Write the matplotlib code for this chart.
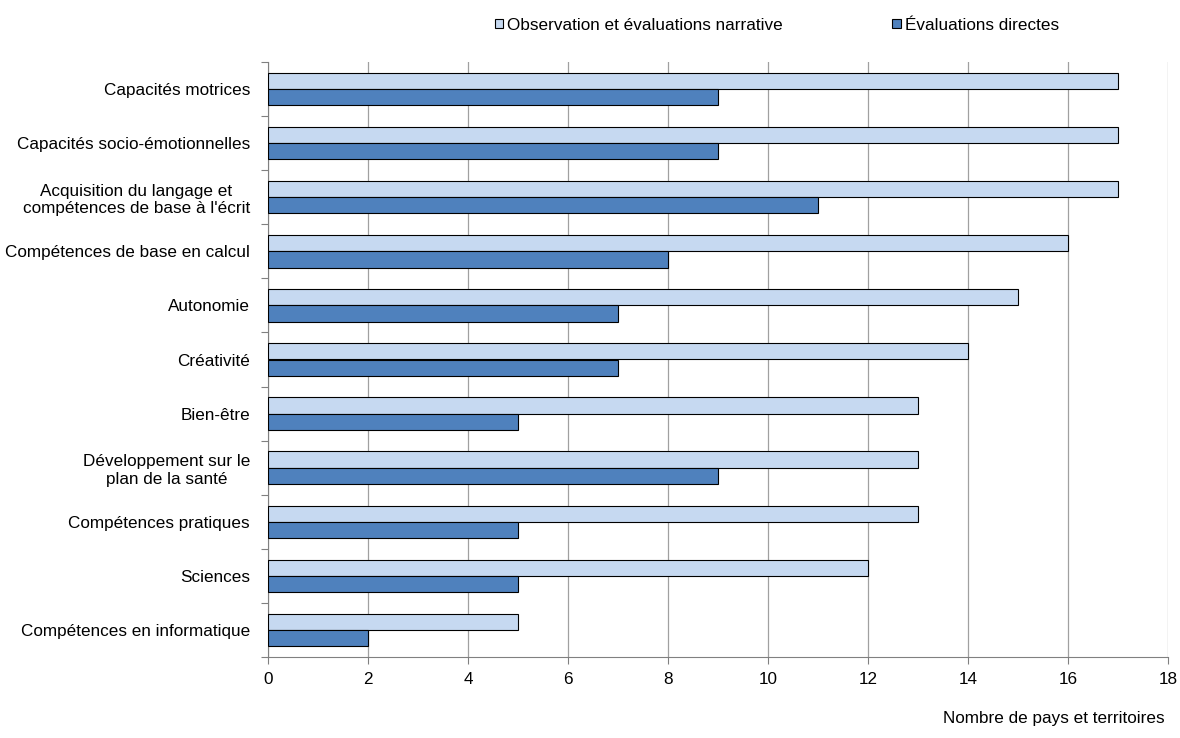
import numpy as np
from matplotlib import pyplot as plt
from matplotlib import rcParams

rcParams['font.family'] = ['Liberation Sans', 'DejaVu Sans']
rcParams['font.size'] = 12.3

categories = ['Capacités motrices', 'Capacités socio-émotionnelles',
              'Acquisition du langage et\ncompétences de base à l\'écrit',
              'Compétences de base en calcul', 'Autonomie', 'Créativité', 'Bien-être',
              'Développement sur le\nplan de la santé', 'Compétences pratiques', 'Sciences',
              'Compétences en informatique']
observation = [17, 17, 17, 16, 15, 14, 13, 13, 13, 12, 5]
directes = [9, 9, 11, 8, 7, 7, 5, 9, 5, 5, 2]

fig = plt.figure(figsize=(11.8, 7.38), dpi=100)
ax = fig.add_axes([268 / 1180, 1 - 657 / 738, 900 / 1180, 595 / 738])

y = np.arange(len(categories))
h = 0.3
ax.barh(y - h / 2, observation, h, color='#c6d9f1', edgecolor='black', lw=0.8,
        label='Observation et évaluations narrative', zorder=3)
ax.barh(y + h / 2, directes, h, color='#4f81bd', edgecolor='black', lw=0.8,
        label='Évaluations directes', zorder=3)

ax.set_ylim(len(categories) - 0.5, -0.5)
ax.set_xlim(0, 18)
ax.set_xticks(range(0, 19, 2))
ax.set_yticks(np.arange(-0.5, len(categories), 1))
ax.set_yticklabels([])
ax.set_yticks(y, minor=True)
ax.set_yticklabels(categories, minor=True, multialignment='center')
ax.tick_params(axis='y', which='minor', length=0, pad=13)
ax.tick_params(axis='y', which='major', length=5, color='#808080', direction='out')
ax.tick_params(axis='x', length=5, color='#808080', direction='out', pad=6)

ax.grid(True, axis='x', color='#a0a0a0', lw=0.9, zorder=0)
for s in ['top', 'right']:
    ax.spines[s].set_visible(False)
ax.spines['left'].set_color('#808080')
ax.spines['bottom'].set_color('#808080')

fig.legend(*ax.get_legend_handles_labels(), loc='center', bbox_to_anchor=(777 / 1180, 1 - 25 / 738),
           ncol=2, frameon=False, handlelength=0.5, handleheight=0.5, handletextpad=0.25,
           columnspacing=6.4, borderpad=0)
fig.text(1165 / 1180, 1 - 718 / 738, 'Nombre de pays et territoires', ha='right', va='center')

plt.savefig('out.png', dpi=100)
